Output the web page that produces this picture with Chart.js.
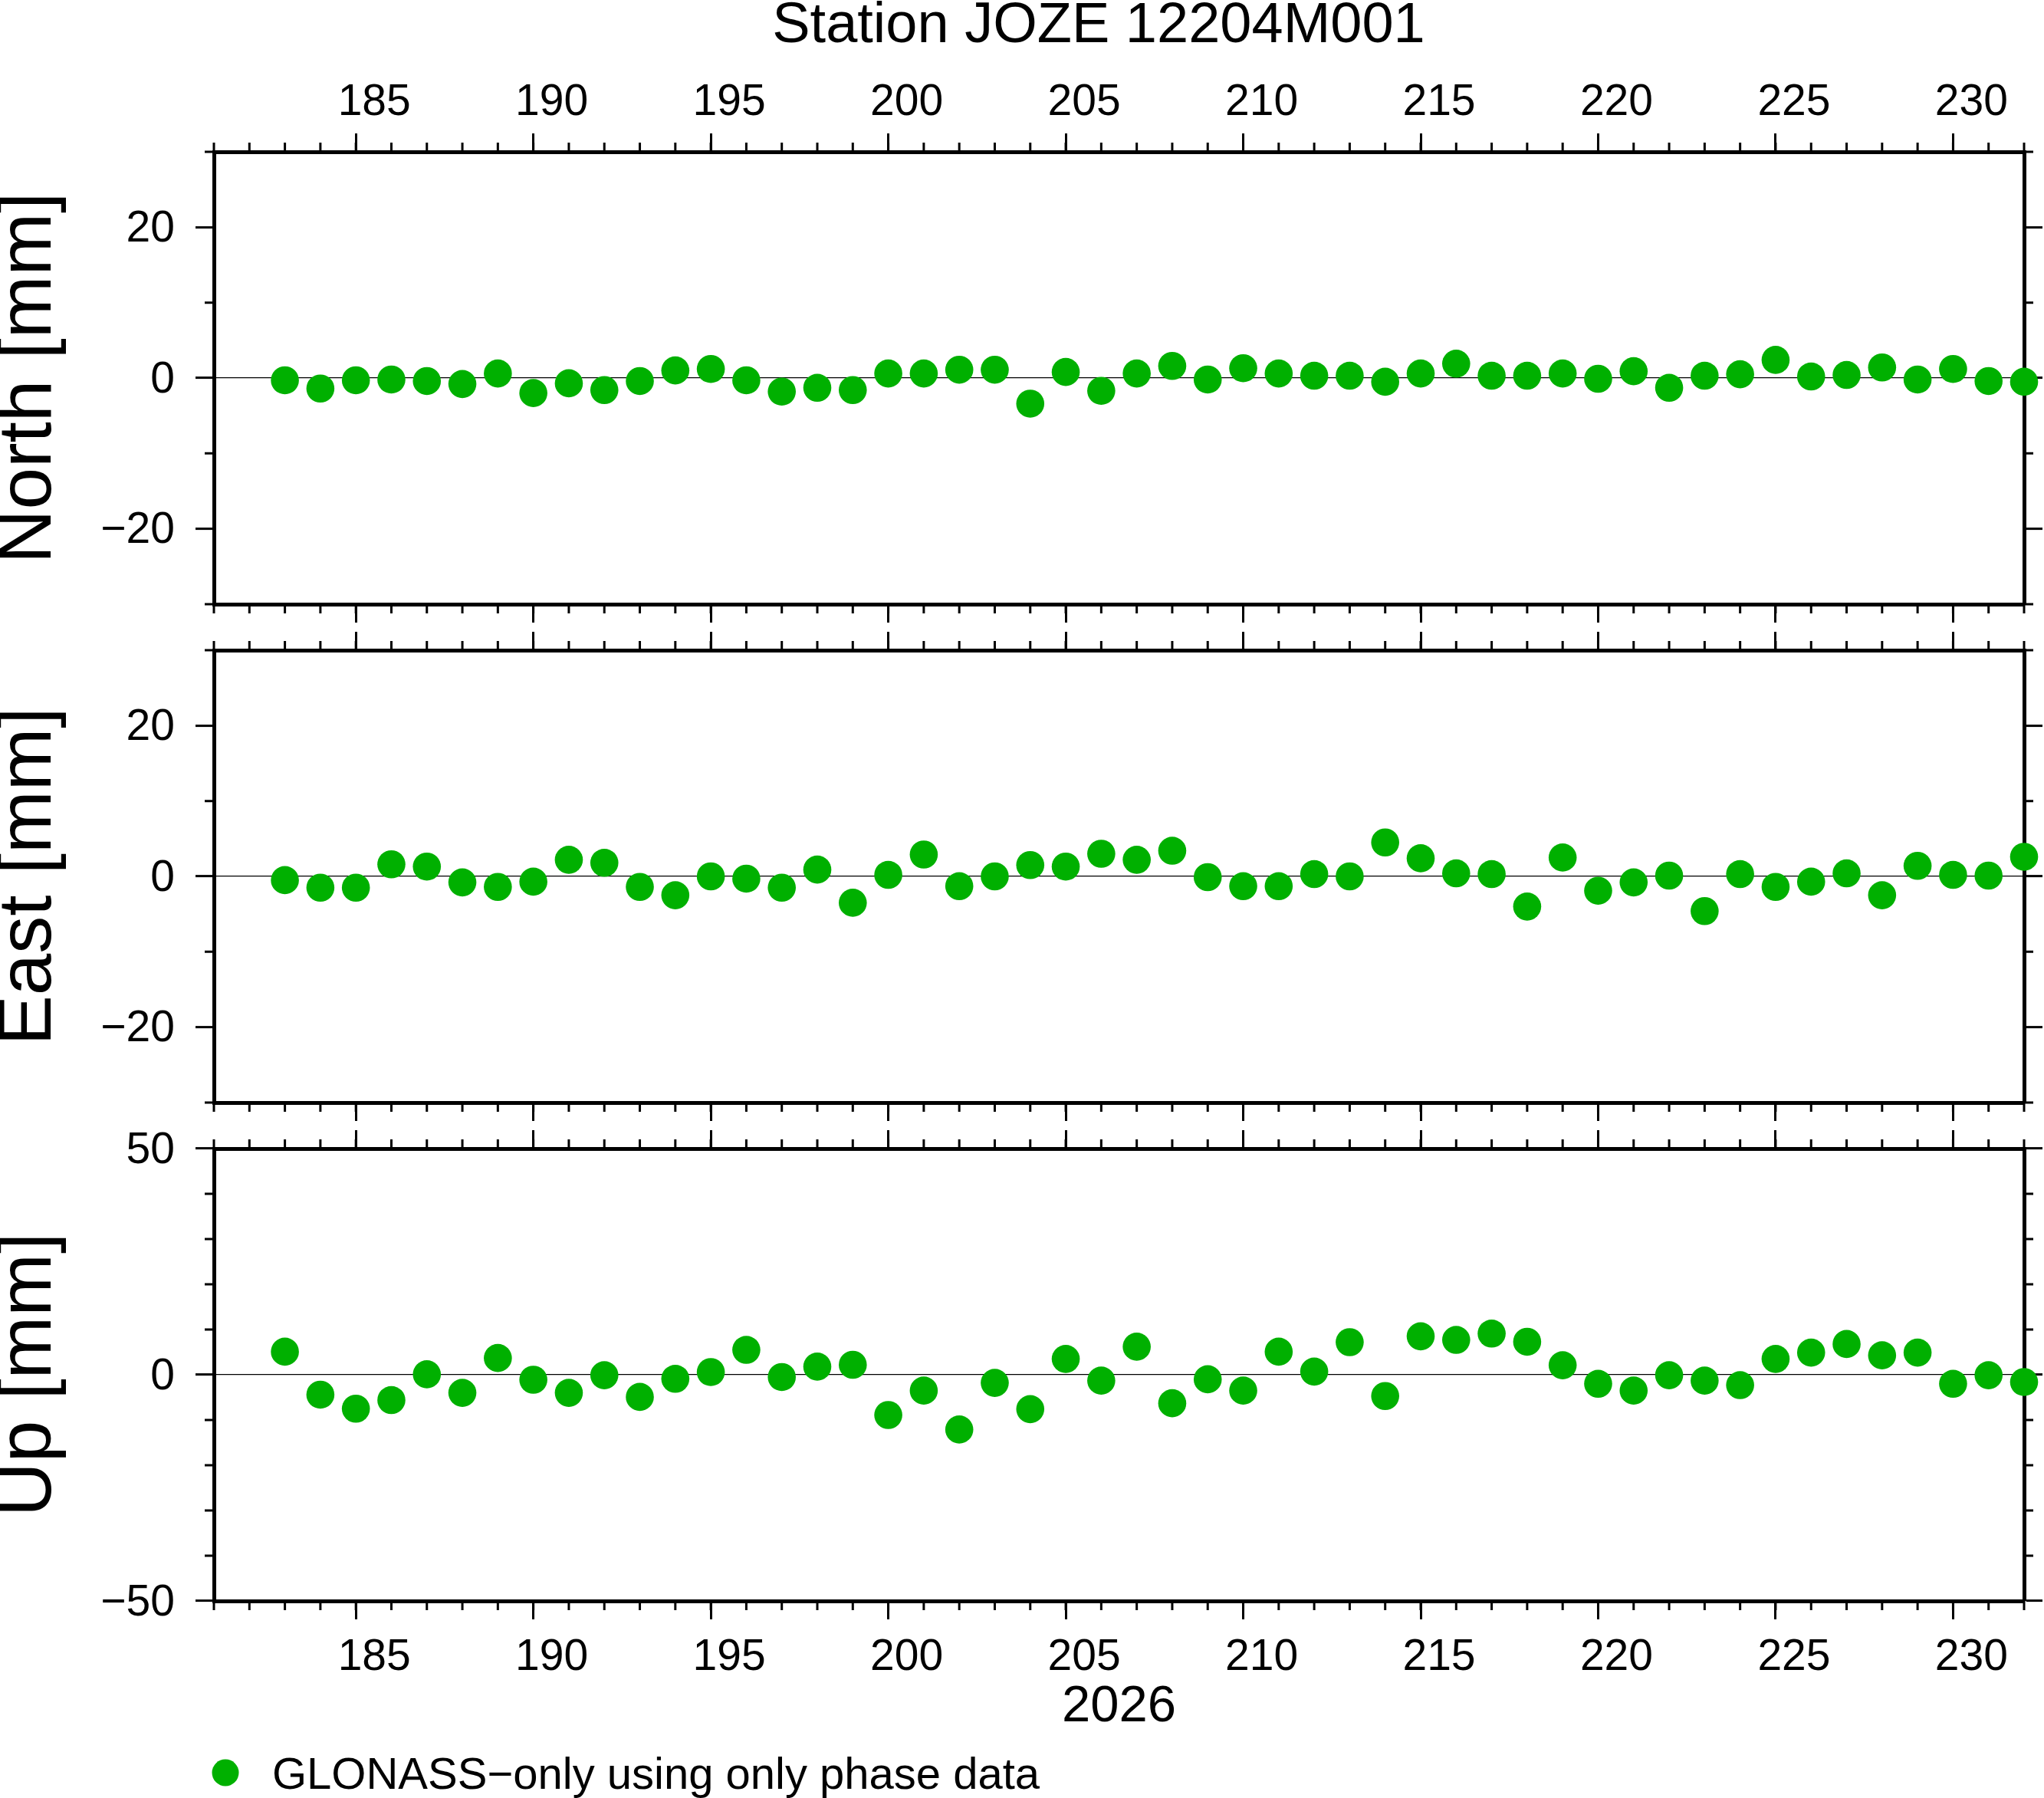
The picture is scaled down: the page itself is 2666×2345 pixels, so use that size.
<!DOCTYPE html>
<html>
<head>
<meta charset="utf-8">
<title>Station JOZE 12204M001</title>
<script src="https://cdn.jsdelivr.net/npm/chart.js@4.4.1/dist/chart.umd.min.js"></script>
<style>
  html, body { margin: 0; padding: 0; background: #fff; overflow: hidden; }
  #page { position: relative; width: 2666px; height: 2345px; }
  #title {
    position: absolute; left: 0; top: -7px; width: 2866px;
    text-align: center; white-space: nowrap; color: #000;
    font: 74px/74px "Liberation Sans", Arial, Helvetica, sans-serif;
  }
  canvas { position: absolute; left: 0; }
</style>
</head>
<body>
<div id="page">
  <div id="title">Station JOZE 12204M001</div>
  <canvas id="north"></canvas>
  <canvas id="east"></canvas>
  <canvas id="up"></canvas>
</div>
<script>
// day of year (2026)
const days = [183, 184, 185, 186, 187, 188, 189, 190, 191, 192,
              193, 194, 195, 196, 197, 198, 199, 200, 201, 202,
              203, 204, 205, 206, 207, 208, 209, 210, 211, 212,
              213, 214, 215, 216, 217, 218, 219, 220, 221, 222,
              223, 224, 225, 226, 227, 228, 229, 230, 231, 232];

// residuals in mm
const north = [-0.3, -1.4, -0.3, -0.2, -0.4, -0.8, 0.6, -2.0, -0.7, -1.6,
               -0.4, 1.0, 1.2, -0.3, -1.8, -1.3, -1.6, 0.6, 0.6, 1.1,
               1.1, -3.4, 0.8, -1.7, 0.6, 1.6, -0.2, 1.3, 0.6, 0.3,
               0.3, -0.5, 0.6, 1.9, 0.3, 0.3, 0.6, -0.1, 0.9, -1.3,
               0.3, 0.5, 2.4, 0.2, 0.4, 1.4, -0.2, 1.2, -0.4, -0.5];
const east = [-0.5, -1.5, -1.5, 1.6, 1.3, -0.8, -1.4, -0.7, 2.2, 1.8,
              -1.4, -2.5, 0.0, -0.3, -1.5, 0.9, -3.5, 0.2, 2.9, -1.3,
              0.0, 1.5, 1.3, 3.0, 2.2, 3.4, -0.1, -1.3, -1.3, 0.3,
              0.0, 4.5, 2.4, 0.4, 0.3, -4.0, 2.5, -1.9, -0.8, 0.1,
              -4.6, 0.3, -1.4, -0.7, 0.4, -2.5, 1.4, 0.2, 0.1, 2.6];
const up = [5.1, -4.4, -7.5, -5.6, 0.1, -4.0, 3.7, -1.1, -4.0, -0.1,
            -4.9, -0.9, 0.6, 5.5, -0.5, 1.8, 2.2, -8.9, -3.5, -12.1,
            -1.8, -7.6, 3.5, -1.3, 6.2, -6.3, -1.0, -3.5, 5.1, 0.7,
            7.2, -4.7, 8.5, 7.7, 9.1, 7.3, 2.1, -2.0, -3.5, -0.1,
            -1.3, -2.3, 3.5, 4.9, 6.8, 4.3, 4.9, -2.0, -0.1, -1.6];

// ticks
const xMajorTicks = [185, 190, 195, 200, 205, 210, 215, 220, 225, 230];
const yMajorNE = [-20, 0, 20];
const yMinorNE = [-30, -10, 10, 30];
const yMajorUp = [-50, 0, 50];
const yMinorUp = [-40, -30, -20, -10, 10, 20, 30, 40];

const seriesLabel = 'GLONASS\u2212only using only phase data';
const yearLabel = '2026';

const GREEN = 'rgb(0,176,0)';
const FONT = '"Liberation Sans", Arial, Helvetica, sans-serif';
const X_MIN = 181, X_MAX = 232;
const WIDTH = 2666, LEFT_W = 279, RIGHT_W = 26;

Chart.defaults.font.family = FONT;
Chart.defaults.color = '#000';

const minus = v => String(v).replace('-', '\u2212');

// short daily ticks and the 10 mm ticks, on all four sides
const minorTicks = {
  id: 'minorTicks',
  beforeDatasetsDraw(chart, args, opts) {
    const { ctx, chartArea: a } = chart;
    const x = chart.scales.x, y = chart.scales.y;
    ctx.save();
    ctx.strokeStyle = '#000';
    ctx.lineWidth = 3;
    ctx.beginPath();
    for (let d = X_MIN; d <= X_MAX; d++) {
      const px = x.getPixelForValue(d);
      ctx.moveTo(px, a.top); ctx.lineTo(px, a.top - 12);
      ctx.moveTo(px, a.bottom); ctx.lineTo(px, a.bottom + 12);
    }
    opts.values.forEach(v => {
      const py = y.getPixelForValue(v);
      ctx.moveTo(a.left, py); ctx.lineTo(a.left - 12, py);
      ctx.moveTo(a.right, py); ctx.lineTo(a.right + 12, py);
    });
    ctx.stroke();
    ctx.restore();
  }
};

// one-line legend under the lowest panel: dot + dataset label
const legendRow = {
  id: 'legendRow',
  afterDraw(chart, args, opts) {
    if (!opts.display) return;
    const { ctx, chartArea: a } = chart;
    const ds = chart.data.datasets[0];
    const cx = a.left + opts.dx, cy = a.bottom + opts.dy;
    ctx.save();
    ctx.fillStyle = ds.backgroundColor;
    ctx.beginPath();
    ctx.arc(cx, cy, opts.radius, 0, Math.PI * 2);
    ctx.fill();
    ctx.fillStyle = '#000';
    ctx.font = opts.size + 'px ' + FONT;
    ctx.textBaseline = 'alphabetic';
    ctx.textAlign = 'left';
    ctx.fillText(ds.label, cx + opts.gap, cy + opts.size * 0.36);
    ctx.restore();
  }
};

const xAxis = (position, size, showLabels, title) => ({
  type: 'linear', position, min: X_MIN, max: X_MAX,
  afterBuildTicks: s => { s.ticks = xMajorTicks.map(v => ({ value: v })); },
  afterFit: s => { s.height = size; s.paddingLeft = 0; s.paddingRight = 0; },
  border: { display: true, color: '#000', width: 5 },
  grid: { drawOnChartArea: false, drawTicks: true, tickLength: 24, tickWidth: 3, tickColor: '#000' },
  ticks: { display: showLabels, autoSkip: false, maxRotation: 0,
           padding: position === 'top' ? 6 : 16, labelOffset: 24,
           color: '#000', font: { size: 57 } },
  title: title
    ? { display: true, text: title, color: '#000', font: { size: 67 }, padding: { top: 0, bottom: 78 } }
    : { display: false }
});

const yAxis = (position, size, majors, lim, title) => ({
  type: 'linear', position, min: -lim, max: lim,
  afterBuildTicks: s => { s.ticks = majors.map(v => ({ value: v })); },
  afterFit: s => { s.width = size; s.paddingTop = 0; s.paddingBottom = 0; },
  border: { display: true, color: '#000', width: 5 },
  grid: {
    drawOnChartArea: position === 'left',
    color: c => (c.tick && c.tick.value === 0 ? '#000' : 'rgba(0,0,0,0)'),
    lineWidth: 1.2,
    drawTicks: true, tickLength: 24, tickWidth: 3, tickColor: '#000'
  },
  ticks: { display: position === 'left', padding: 27, labelOffset: 3, color: '#000', font: { size: 57 },
           callback: v => minus(v) },
  title: title
    ? { display: true, text: title, color: '#000', font: { size: 98, lineHeight: 0.8 }, padding: 0 }
    : { display: false }
});

function panel(id, top, height, values, p) {
  const canvas = document.getElementById(id);
  canvas.width = WIDTH;
  canvas.height = height;
  canvas.style.top = top + 'px';
  canvas.style.width = WIDTH + 'px';
  canvas.style.height = height + 'px';

  return new Chart(canvas, {
    type: 'scatter',
    data: {
      datasets: [{
        label: seriesLabel,
        data: days.map((d, i) => ({ x: d, y: values[i] })),
        backgroundColor: GREEN,
        borderColor: GREEN,
        borderWidth: 0,
        pointRadius: 18.3,
        pointHoverRadius: 18.3,
        clip: false
      }]
    },
    options: {
      responsive: false,
      animation: false,
      events: [],
      devicePixelRatio: 1,
      layout: { padding: 0, autoPadding: false },
      plugins: {
        legend: { display: false },
        tooltip: { enabled: false },
        minorTicks: { values: p.yMinor },
        legendRow: { display: !!p.legend, dx: 15, dy: 224, radius: 17.5, gap: 61, size: 58 }
      },
      scales: {
        x: xAxis('bottom', p.bottomH, p.bottomLabels, p.xTitle),
        xTop: xAxis('top', p.topH, p.topLabels, null),
        y: yAxis('left', LEFT_W, p.yMajor, p.lim, p.yTitle),
        yRight: yAxis('right', RIGHT_W, p.yMajor, p.lim, null)
      }
    },
    plugins: [minorTicks, legendRow]
  });
}

panel('north', 0, 818, north, {
  topH: 198, bottomH: 30, topLabels: true, bottomLabels: false,
  yMajor: yMajorNE, yMinor: yMinorNE, lim: 30, yTitle: 'North [mm]'
});
panel('east', 818, 650, east, {
  topH: 30, bottomH: 30, topLabels: false, bottomLabels: false,
  yMajor: yMajorNE, yMinor: yMinorNE, lim: 30, yTitle: 'East [mm]'
});
panel('up', 1468, 877, up, {
  topH: 30, bottomH: 257, topLabels: false, bottomLabels: true, xTitle: yearLabel,
  yMajor: yMajorUp, yMinor: yMinorUp, lim: 50, yTitle: 'Up [mm]', legend: true
});
</script>
</body>
</html>
